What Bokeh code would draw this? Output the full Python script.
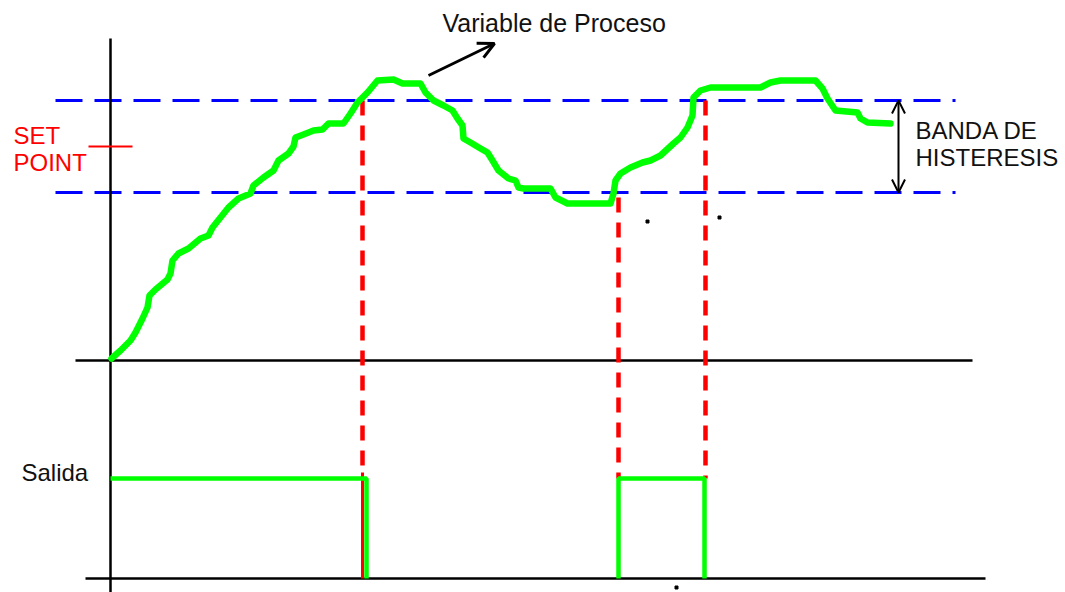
from bokeh.plotting import figure
from bokeh.models import Range1d, Arrow, OpenHead
from bokeh.core.properties import value
from bokeh.embed import file_html
from bokeh.resources import INLINE

# Process variable (time, level) - screen-like units, y grows downward
pv_t = [111, 120, 130, 135, 142, 147, 149, 155, 167, 170, 172, 178, 188, 200, 208, 212,
        220, 228, 238, 250, 253, 263, 273, 278, 288, 293, 295, 303, 313, 322, 328, 343,
        350, 357, 367, 377, 393, 402, 420, 425, 433, 443, 452, 457, 462, 463, 470, 480,
        487, 492, 498, 508, 515, 518, 523, 550, 555, 567, 610, 613, 615, 620, 630, 642,
        650, 660, 673, 680, 687, 692, 693, 700, 710, 760, 770, 780, 815, 822, 827, 835,
        857, 860, 867, 890]
pv_v = [358, 350, 340, 332, 318, 307, 295, 289, 279, 273, 260, 253, 248, 238, 235, 227,
        217, 207, 198, 193, 185, 177, 170, 160, 153, 146, 137, 134, 130, 129, 123, 123,
        113, 102, 92, 80, 79, 83, 83, 92, 100, 105, 110, 118, 125, 138, 142, 148,
        152, 160, 170, 178, 180, 187, 188, 188, 197, 203, 203, 193, 180, 173, 167, 162,
        160, 155, 143, 137, 127, 115, 97, 90, 87, 87, 82, 80, 80, 88, 98, 110,
        112, 118, 122, 123]

band_upper = 100
band_lower = 192
set_point = 146
band_x = [55, 955]
sp_x = [88, 132]

# Switching instants and output signal
switch_t = [362, 618, 705]
switch_top = [100, 197, 100]
switch_dash_end = [472, 478, 478]
out_high = 478
out_low = 578
out_t1 = [110, 366, 366]
out_v1 = [out_high, out_high, out_low]
out_t2 = [618, 618, 704, 704]
out_v2 = [out_low, out_high, out_high, out_low]

# Axes
y_axis_t = [110, 110]
y_axis_v = [38, 600]
top_base_t = [75, 972]
top_base_v = [360, 360]
bot_base_t = [85, 985]
bot_base_v = [578, 578]

specks_t = [647, 719, 676]
specks_v = [221, 217, 587]

FONT = value("Liberation Sans")

p = figure(width=1065, height=592, x_range=Range1d(0, 1065), y_range=Range1d(592, 0),
           output_backend="svg", toolbar_location=None, min_border=0,
           x_axis_location=None, y_axis_location=None)
p.grid.visible = False
p.outline_line_color = None
p.background_fill_color = "white"

BLUE = "#0000ff"
RED = "#ff0000"
GREEN = "#00ff00"

# Hysteresis band lines
p.line(band_x, [band_upper, band_upper], line_color=BLUE, line_width=3, line_dash="27 12")
p.line(band_x, [band_lower, band_lower], line_color=BLUE, line_width=3, line_dash="27 12")

# Axes
p.line(y_axis_t, y_axis_v, line_color="black", line_width=2.5)
p.line(top_base_t, top_base_v, line_color="black", line_width=2.5)
p.line(bot_base_t, bot_base_v, line_color="black", line_width=2.5)

# Set point tick
p.line(sp_x, [set_point, set_point], line_color=RED, line_width=2)

# Switching lines
for t, top, end in zip(switch_t, switch_top, switch_dash_end):
    p.line([t, t], [top, end], line_color=RED, line_width=4.5, line_dash="15 10")
p.line([switch_t[0], switch_t[0]], [switch_dash_end[0], out_low], line_color=RED, line_width=3)

# Process variable
p.line(pv_t, pv_v, line_color=GREEN, line_width=6.5, line_join="round", line_cap="round")

# Output
p.line(out_t1, out_v1, line_color=GREEN, line_width=4.5)
p.line(out_t2, out_v2, line_color=GREEN, line_width=4.5)

p.scatter(specks_t, specks_v, marker="square", size=3, color="black")

# Texts
p.text(x=[442], y=[22], text=["Variable de Proceso"], text_font=FONT, text_font_size="25px",
       text_color="#111111", text_baseline="alphabetic")
p.text(x=[13, 13], y=[135, 162], text=["SET", "POINT"], text_font=FONT, text_font_size="24px",
       text_color=RED, text_baseline="alphabetic")
p.text(x=[915, 915], y=[130, 157], text=["BANDA DE", "HISTERESIS"], text_font=FONT,
       text_font_size="24px", text_color="#111111", text_baseline="alphabetic")
p.text(x=[21], y=[472], text=["Salida"], text_font=FONT, text_font_size="24px",
       text_color="#111111", text_baseline="alphabetic")

# Arrows
p.add_layout(Arrow(end=OpenHead(size=16, line_width=3, line_color="black"),
                   x_start=428, y_start=75, x_end=494, y_end=43,
                   line_width=3, line_color="black"))
p.add_layout(Arrow(start=OpenHead(size=13, line_width=2, line_color="black"),
                   end=OpenHead(size=13, line_width=2, line_color="black"),
                   x_start=898, y_start=band_lower, x_end=898, y_end=band_upper,
                   line_width=2, line_color="black"))

open("out.html", "w").write(file_html(p, INLINE))
